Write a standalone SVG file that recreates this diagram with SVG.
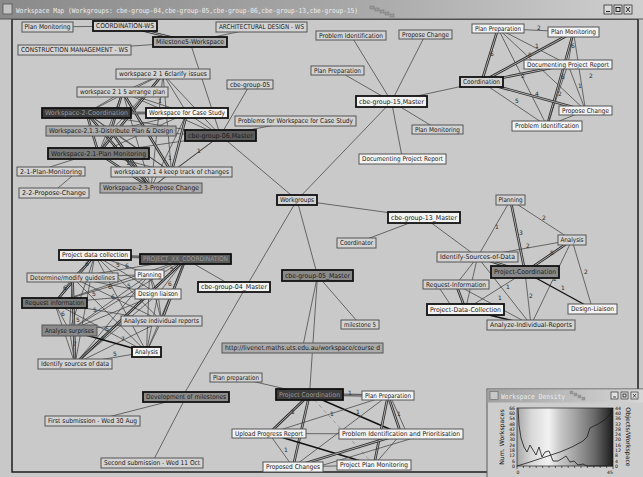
<svg xmlns="http://www.w3.org/2000/svg" width="643" height="477" viewBox="0 0 643 477">
<defs>
<linearGradient id="titleGrad" x1="0" y1="0" x2="1" y2="0">
<stop offset="0" stop-color="#8a8a8a"/><stop offset="0.55" stop-color="#a8a8a8"/><stop offset="1" stop-color="#cfcfcf"/>
</linearGradient>
<linearGradient id="smallTitleGrad" x1="0" y1="0" x2="1" y2="0">
<stop offset="0" stop-color="#a0a0a0"/><stop offset="1" stop-color="#d8d8d8"/>
</linearGradient>
<linearGradient id="plotGrad" x1="0" y1="0" x2="1" y2="0">
<stop offset="0" stop-color="#a8a8a8"/><stop offset="0.15" stop-color="#d8d8d8"/><stop offset="0.33" stop-color="#f2f2f2"/><stop offset="0.45" stop-color="#c8c8c8"/><stop offset="0.6" stop-color="#a4a4a4"/><stop offset="0.8" stop-color="#6c6c6c"/><stop offset="1" stop-color="#1c1c1c"/>
</linearGradient>
<style>
.e line{stroke:#3a3a3a;stroke-width:0.7;fill:none}
.e line.dk{stroke:#111;stroke-width:1.4}
.e line.dbl{stroke:#2c2c2c;stroke-width:2.6}
.e line.dbi{stroke:#bdbdbd;stroke-width:0.9}
.e line.bar{stroke:#6a6a6a;stroke-width:3}
.e line.lt{stroke:#777;stroke-width:0.6;stroke-dasharray:4 3}
.elab text{font-family:"DejaVu Sans",sans-serif;font-size:6px;fill:#2a2a2a;text-anchor:middle}
.node rect{stroke:#555;stroke-width:1}
.node rect.b{stroke:#111;stroke-width:1.8}
.node text{font-family:"DejaVu Sans",sans-serif;font-size:6.6px;fill:#1a1a1a;text-anchor:middle}
.node text.lt{fill:#9a9a9a}
.fn{fill:#d3d3d3}
.fw{fill:#f3f3f3}
.fg{fill:#ababab}
.fm{fill:#8a8a8a}
.fx{fill:#7a7a7a}
.fd{fill:#5c5c5c}
.fk{fill:#3c3c3c}
.ttl{font-family:"DejaVu Sans Mono",monospace;font-size:7px;fill:#ececec}
.ax text{font-family:"DejaVu Sans",sans-serif;font-size:4.6px;fill:#111}
.ax line{stroke:#111;stroke-width:0.6}
</style>
</defs>

<!-- desktop and main window -->
<rect x="0" y="0" width="643" height="477" fill="#c8c8c8"/>
<rect x="12" y="19" width="626" height="453" fill="#c9c9c9" stroke="#1e1e1e" stroke-width="1.5"/>
<rect x="0" y="0" width="643" height="19" fill="url(#titleGrad)"/>
<line x1="0" y1="19" x2="643" y2="19" stroke="#555" stroke-width="1"/>
<rect x="3" y="4" width="9" height="10" fill="#c4c4c4" stroke="#555" stroke-width="0.8"/>
<text class="ttl" x="16" y="12.5" textLength="342" lengthAdjust="spacingAndGlyphs">Workspace Map (Workgroups: cbe-group-04,cbe-group-05,cbe-group-06,cbe-group-13,cbe-group-15)</text>
<g fill="#9a9a9a" stroke="#6a6a6a" stroke-width="0.4">
<rect x="370" y="6" width="4" height="3"/><rect x="375" y="8" width="4" height="3"/><rect x="380" y="10" width="4" height="3"/><rect x="385" y="12" width="4" height="3"/><rect x="390" y="14" width="4" height="3"/>
</g>
<g fill="#d8d8d8" stroke="#333" stroke-width="0.8">
<rect x="604" y="5" width="8" height="9"/><rect x="614" y="5" width="8" height="9"/><rect x="624" y="5" width="8" height="9"/>
</g>
<g stroke="#222" stroke-width="1" fill="none">
<line x1="606" y1="11.5" x2="610" y2="11.5"/><rect x="616" y="7.5" width="4" height="4"/><line x1="626" y1="7" x2="630" y2="12"/><line x1="630" y1="7" x2="626" y2="12"/>
</g>

<g id="connectors" class="e">
<!-- cbe-group-06 workgroup -->
<line x1="47.5" y1="27" x2="125" y2="26"/>
<line class="dbl" x1="125" y1="26" x2="190" y2="42"/><line class="dbi" x1="125" y1="26" x2="190" y2="42"/>
<line x1="261.5" y1="27" x2="190" y2="42"/>
<line x1="74.5" y1="50" x2="190" y2="42"/>
<line x1="190" y1="42" x2="220.5" y2="135.5"/>
<line x1="220.5" y1="135.5" x2="250" y2="84.5"/>
<line x1="220.5" y1="135.5" x2="295.5" y2="121"/>
<line x1="220.5" y1="135.5" x2="297" y2="200"/>
<line x1="220.5" y1="135.5" x2="163" y2="74"/>
<line x1="220.5" y1="135.5" x2="122.5" y2="92"/>
<line x1="220.5" y1="135.5" x2="86.5" y2="113"/>
<line x1="220.5" y1="135.5" x2="187" y2="113"/>
<line x1="220.5" y1="135.5" x2="111" y2="131"/>
<line x1="220.5" y1="135.5" x2="98.5" y2="153.5"/>
<line x1="220.5" y1="135.5" x2="171.5" y2="172"/>
<line x1="220.5" y1="135.5" x2="151" y2="188"/>
<line x1="163" y1="74" x2="122.5" y2="92"/>
<line x1="163" y1="74" x2="86.5" y2="113"/>
<line x1="163" y1="74" x2="187" y2="113"/>
<line x1="163" y1="74" x2="111" y2="131"/>
<line class="dbl" x1="163" y1="74" x2="98.5" y2="153.5"/><line class="dbi" x1="163" y1="74" x2="98.5" y2="153.5"/>
<line x1="163" y1="74" x2="171.5" y2="172"/>
<line x1="163" y1="74" x2="151" y2="188"/>
<line x1="122.5" y1="92" x2="86.5" y2="113"/>
<line x1="122.5" y1="92" x2="187" y2="113"/>
<line class="dbl" x1="122.5" y1="92" x2="111" y2="131"/><line class="dbi" x1="122.5" y1="92" x2="111" y2="131"/>
<line x1="122.5" y1="92" x2="98.5" y2="153.5"/>
<line class="dbl" x1="122.5" y1="92" x2="171.5" y2="172"/><line class="dbi" x1="122.5" y1="92" x2="171.5" y2="172"/>
<line x1="122.5" y1="92" x2="151" y2="188"/>
<line class="dbl" x1="86.5" y1="113" x2="187" y2="113"/><line class="dbi" x1="86.5" y1="113" x2="187" y2="113"/>
<line x1="86.5" y1="113" x2="111" y2="131"/>
<line class="dbl" x1="86.5" y1="113" x2="98.5" y2="153.5"/><line class="dbi" x1="86.5" y1="113" x2="98.5" y2="153.5"/>
<line x1="86.5" y1="113" x2="171.5" y2="172"/>
<line class="dbl" x1="86.5" y1="113" x2="151" y2="188"/><line class="dbi" x1="86.5" y1="113" x2="151" y2="188"/>
<line x1="187" y1="113" x2="111" y2="131"/>
<line x1="187" y1="113" x2="98.5" y2="153.5"/>
<line class="dbl" x1="187" y1="113" x2="171.5" y2="172"/><line class="dbi" x1="187" y1="113" x2="171.5" y2="172"/>
<line x1="187" y1="113" x2="151" y2="188"/>
<line x1="111" y1="131" x2="98.5" y2="153.5"/>
<line x1="111" y1="131" x2="171.5" y2="172"/>
<line class="dbl" x1="111" y1="131" x2="151" y2="188"/><line class="dbi" x1="111" y1="131" x2="151" y2="188"/>
<line x1="98.5" y1="153.5" x2="171.5" y2="172"/>
<line class="dbl" x1="98.5" y1="153.5" x2="151" y2="188"/><line class="dbi" x1="98.5" y1="153.5" x2="151" y2="188"/>
<line x1="171.5" y1="172" x2="151" y2="188"/>
<line x1="75" y1="159" x2="50" y2="167"/>
<line x1="72" y1="176" x2="58" y2="188"/>

<!-- cbe-group-15 workgroup -->
<line x1="391.5" y1="101.5" x2="351" y2="35.5"/>
<line x1="391.5" y1="101.5" x2="425.5" y2="34.5"/>
<line x1="391.5" y1="101.5" x2="337.5" y2="70.5"/>
<line x1="391.5" y1="101.5" x2="481.5" y2="82"/>
<line x1="391.5" y1="101.5" x2="437.5" y2="129.5"/>
<line x1="391.5" y1="101.5" x2="402.5" y2="159"/>
<line x1="391.5" y1="101.5" x2="297" y2="200"/>
<line x1="498" y1="28.5" x2="573.5" y2="32"/>
<line class="dbl" x1="498" y1="28.5" x2="481.5" y2="82"/><line class="dbi" x1="498" y1="28.5" x2="481.5" y2="82"/>
<line x1="498" y1="28.5" x2="568" y2="64.5"/>
<line x1="498" y1="28.5" x2="585.5" y2="110.5"/>
<line x1="498" y1="28.5" x2="547" y2="126"/>
<line class="dbl" x1="573.5" y1="32" x2="481.5" y2="82"/><line class="dbi" x1="573.5" y1="32" x2="481.5" y2="82"/>
<line x1="573.5" y1="32" x2="568" y2="64.5"/>
<line x1="573.5" y1="32" x2="585.5" y2="110.5"/>
<line class="dbl" x1="573.5" y1="32" x2="547" y2="126"/><line class="dbi" x1="573.5" y1="32" x2="547" y2="126"/>
<line class="dbl" x1="568" y1="64.5" x2="481.5" y2="82"/><line class="dbi" x1="568" y1="64.5" x2="481.5" y2="82"/>
<line x1="568" y1="64.5" x2="585.5" y2="110.5"/>
<line x1="568" y1="64.5" x2="547" y2="126"/>
<line class="dbl" x1="481.5" y1="82" x2="585.5" y2="110.5"/><line class="dbi" x1="481.5" y1="82" x2="585.5" y2="110.5"/>
<line x1="481.5" y1="82" x2="547" y2="126"/>
<line x1="585.5" y1="110.5" x2="547" y2="126"/>

<!-- workgroups hub -->
<line x1="297" y1="200" x2="424" y2="217.5"/>
<line x1="297" y1="200" x2="317.5" y2="275.5"/>
<line x1="297" y1="200" x2="246" y2="287"/>
<line x1="246" y1="287" x2="184" y2="394"/>
<line x1="424" y1="217.5" x2="356.5" y2="243"/>
<line x1="424" y1="217.5" x2="477.5" y2="257"/>
<line x1="317.5" y1="275.5" x2="360" y2="324.5"/>
<line x1="317.5" y1="275.5" x2="302.5" y2="348"/>
<line x1="317.5" y1="275.5" x2="309.5" y2="394.5"/>
<line x1="185.5" y1="259" x2="234" y2="287"/>
<line x1="236" y1="377.5" x2="309.5" y2="394.5"/>
<line x1="186" y1="397" x2="92.5" y2="421"/>
<line x1="186" y1="397" x2="152" y2="463"/>

<!-- cbe-group-13 workgroup -->
<line x1="510.5" y1="200" x2="477.5" y2="257"/>
<line class="dbl" x1="510.5" y1="200" x2="525" y2="272"/><line class="dbi" x1="510.5" y1="200" x2="525" y2="272"/>
<line x1="510.5" y1="200" x2="572" y2="240"/>
<line x1="572" y1="240" x2="477.5" y2="257"/>
<line class="dbl" x1="572" y1="240" x2="525" y2="272"/><line class="dbi" x1="572" y1="240" x2="525" y2="272"/>
<line x1="572" y1="240" x2="592.5" y2="309"/>
<line x1="572" y1="240" x2="531" y2="325"/>
<line class="dk" x1="525" y1="272" x2="592.5" y2="309"/>
<line x1="525" y1="272" x2="465.5" y2="309.5"/>
<line x1="525" y1="272" x2="531" y2="325"/>
<line class="dbl" x1="525" y1="272" x2="477.5" y2="257"/><line class="dbi" x1="525" y1="272" x2="477.5" y2="257"/>
<line x1="477.5" y1="257" x2="456" y2="284.5"/>
<line x1="477.5" y1="257" x2="531" y2="325"/>
<line x1="477.5" y1="257" x2="465.5" y2="309.5"/>
<line class="dbl" x1="456" y1="284.5" x2="465.5" y2="309.5"/><line class="dbi" x1="456" y1="284.5" x2="465.5" y2="309.5"/>
<line x1="456" y1="284.5" x2="531" y2="325"/>
<line x1="440" y1="289" x2="450" y2="304"/>
<line class="dk" x1="465.5" y1="309.5" x2="531" y2="325"/>

<!-- cbe-group-04 workgroup -->
<line class="bar" x1="95" y1="255" x2="185.5" y2="259"/>
<line x1="95" y1="255" x2="149.5" y2="274.5"/>
<line x1="95" y1="255" x2="72.5" y2="277.5"/>
<line x1="95" y1="255" x2="158" y2="294"/>
<line class="dbl" x1="95" y1="255" x2="54.5" y2="303"/><line class="dbi" x1="95" y1="255" x2="54.5" y2="303"/>
<line x1="95" y1="255" x2="161.5" y2="321"/>
<line x1="95" y1="255" x2="69.5" y2="330.5"/>
<line x1="95" y1="255" x2="146.5" y2="352"/>
<line x1="95" y1="255" x2="75" y2="364"/>
<line x1="185.5" y1="259" x2="149.5" y2="274.5"/>
<line x1="185.5" y1="259" x2="72.5" y2="277.5"/>
<line x1="185.5" y1="259" x2="158" y2="294"/>
<line x1="185.5" y1="259" x2="54.5" y2="303"/>
<line class="dbl" x1="185.5" y1="259" x2="161.5" y2="321"/><line class="dbi" x1="185.5" y1="259" x2="161.5" y2="321"/>
<line x1="185.5" y1="259" x2="69.5" y2="330.5"/>
<line x1="185.5" y1="259" x2="146.5" y2="352"/>
<line class="dbl" x1="185.5" y1="259" x2="75" y2="364"/><line class="dbi" x1="185.5" y1="259" x2="75" y2="364"/>
<line x1="149.5" y1="274.5" x2="72.5" y2="277.5"/>
<line x1="149.5" y1="274.5" x2="158" y2="294"/>
<line x1="149.5" y1="274.5" x2="54.5" y2="303"/>
<line x1="149.5" y1="274.5" x2="161.5" y2="321"/>
<line x1="149.5" y1="274.5" x2="69.5" y2="330.5"/>
<line x1="149.5" y1="274.5" x2="146.5" y2="352"/>
<line x1="149.5" y1="274.5" x2="75" y2="364"/>
<line x1="72.5" y1="277.5" x2="158" y2="294"/>
<line x1="72.5" y1="277.5" x2="54.5" y2="303"/>
<line x1="72.5" y1="277.5" x2="161.5" y2="321"/>
<line x1="72.5" y1="277.5" x2="69.5" y2="330.5"/>
<line x1="72.5" y1="277.5" x2="146.5" y2="352"/>
<line class="dbl" x1="72.5" y1="277.5" x2="75" y2="364"/><line class="dbi" x1="72.5" y1="277.5" x2="75" y2="364"/>
<line x1="158" y1="294" x2="54.5" y2="303"/>
<line x1="158" y1="294" x2="161.5" y2="321"/>
<line x1="158" y1="294" x2="69.5" y2="330.5"/>
<line x1="158" y1="294" x2="146.5" y2="352"/>
<line x1="158" y1="294" x2="75" y2="364"/>
<line x1="54.5" y1="303" x2="161.5" y2="321"/>
<line x1="54.5" y1="303" x2="69.5" y2="330.5"/>
<line x1="54.5" y1="303" x2="146.5" y2="352"/>
<line x1="54.5" y1="303" x2="75" y2="364"/>
<line x1="161.5" y1="321" x2="69.5" y2="330.5"/>
<line x1="161.5" y1="321" x2="146.5" y2="352"/>
<line x1="161.5" y1="321" x2="75" y2="364"/>
<line class="dk" x1="69.5" y1="330.5" x2="146.5" y2="352"/>
<line x1="69.5" y1="330.5" x2="75" y2="364"/>
<line x1="146.5" y1="352" x2="75" y2="364"/>

<!-- cbe-group-05 workgroup -->
<line class="dbl" x1="309.5" y1="394.5" x2="388" y2="395.5"/><line class="dbi" x1="309.5" y1="394.5" x2="388" y2="395.5"/>
<line class="dbl" x1="309.5" y1="394.5" x2="269" y2="433.5"/><line class="dbi" x1="309.5" y1="394.5" x2="269" y2="433.5"/>
<line class="dk" x1="309.5" y1="394.5" x2="401" y2="434"/>
<line class="dbl" x1="309.5" y1="394.5" x2="293" y2="467"/><line class="dbi" x1="309.5" y1="394.5" x2="293" y2="467"/>
<line class="lt" x1="309.5" y1="394.5" x2="374" y2="465"/>
<line x1="388" y1="395.5" x2="269" y2="433.5"/>
<line class="dbl" x1="388" y1="395.5" x2="401" y2="434"/><line class="dbi" x1="388" y1="395.5" x2="401" y2="434"/>
<line x1="392" y1="400" x2="405" y2="429"/>
<line x1="388" y1="395.5" x2="293" y2="467"/>
<line class="dbl" x1="388" y1="395.5" x2="374" y2="465"/><line class="dbi" x1="388" y1="395.5" x2="374" y2="465"/>
<line x1="269" y1="433.5" x2="401" y2="434"/>
<line x1="269" y1="433.5" x2="293" y2="467"/>
<line class="dk" x1="269" y1="433.5" x2="374" y2="465"/>
<line class="dbl" x1="401" y1="434" x2="293" y2="467"/><line class="dbi" x1="401" y1="434" x2="293" y2="467"/>
<line x1="401" y1="434" x2="374" y2="465"/>
<line x1="410" y1="439" x2="320" y2="466"/>
<line x1="293" y1="467" x2="374" y2="465"/>
</g>

<g id="edge-labels" class="elab">
<text x="199" y="153">1</text>
<text x="160" y="103">1</text><text x="128" y="165">1</text><text x="170" y="160">1</text>
<text x="539" y="30">2</text><text x="492" y="56">6</text><text x="537" y="48">1</text><text x="530" y="57">5</text><text x="573" y="48">6</text><text x="523" y="78">2</text><text x="563" y="79">6</text><text x="537" y="96">4</text><text x="517" y="103">5</text><text x="560" y="96">2</text><text x="580" y="88">1</text><text x="591" y="78">2</text>
<text x="497" y="229">1</text><text x="521" y="235">3</text><text x="544" y="220">2</text><text x="528" y="248">2</text><text x="552" y="255">5</text><text x="586" y="274">2</text><text x="555" y="281">2</text><text x="563" y="290">1</text><text x="531" y="298">2</text><text x="508" y="289">1</text><text x="500" y="300">1</text>
<text x="87" y="266">6</text><text x="118" y="267">5</text><text x="127" y="268">6</text><text x="129" y="288">5</text><text x="65" y="290">6</text><text x="94" y="296">5</text><text x="63" y="316">6</text><text x="95" y="312">5</text><text x="107" y="331">6</text><text x="78" y="322">5</text><text x="75" y="346">7</text><text x="103" y="341">5</text><text x="123" y="341">7</text><text x="115" y="356">5</text><text x="172" y="271">5</text><text x="113" y="299">6</text><text x="110" y="289">6</text><text x="170" y="286">6</text>
<text x="350" y="395">1</text><text x="358" y="414">1</text><text x="332" y="416">1</text><text x="399" y="416">1</text><text x="286" y="452">1</text><text x="293" y="414">1</text>
</g>

<!-- nodes -->
<g id="n-plan-monitoring-ws" class="node"><rect class="fn" x="22" y="22" width="51" height="10"/><text x="47.5" y="29.3" textLength="46" lengthAdjust="spacingAndGlyphs">Plan Monitoring</text></g>
<g id="n-coordination-ws" class="node"><rect class="fn b" x="93" y="21" width="64" height="10"/><text x="125" y="28.3" textLength="58" lengthAdjust="spacingAndGlyphs">COORDINATION-WS</text></g>
<g id="n-architectural-ws" class="node"><rect class="fn" x="216" y="22" width="91" height="10"/><text x="261.5" y="29.3" textLength="85" lengthAdjust="spacingAndGlyphs">ARCHITECTURAL DESIGN - WS</text></g>
<g id="n-milestone5-ws" class="node"><rect class="fg b" x="153" y="37" width="74" height="10"/><text x="190" y="44.3" textLength="68" lengthAdjust="spacingAndGlyphs">Milestone5-Workspace</text></g>
<g id="n-construction-ws" class="node"><rect class="fn" x="18" y="45" width="113" height="10"/><text x="74.5" y="52.3" textLength="107" lengthAdjust="spacingAndGlyphs">CONSTRUCTION MANAGEMENT - WS</text></g>
<g id="n-ws216" class="node"><rect class="fn" x="116" y="69" width="94" height="10"/><text x="163" y="76.3" textLength="88" lengthAdjust="spacingAndGlyphs">workspace 2 1 6clarify issues</text></g>
<g id="n-ws215" class="node"><rect class="fn" x="77" y="87" width="91" height="10"/><text x="122.5" y="94.3" textLength="85" lengthAdjust="spacingAndGlyphs">workspace 2 1 5 arrange plan</text></g>
<g id="n-ws2-coord" class="node"><rect class="fk b" x="42" y="108" width="89" height="10"/><text class="lt" x="86.5" y="115.3" textLength="83" lengthAdjust="spacingAndGlyphs">Workspace-2-Coordination</text></g>
<g id="n-ws-case" class="node"><rect class="fw b" x="146" y="108" width="82" height="10"/><text x="187" y="115.3" textLength="76" lengthAdjust="spacingAndGlyphs">Workspace for Case Study</text></g>
<g id="n-ws213" class="node"><rect class="fg" x="46" y="126" width="130" height="10"/><text x="111" y="133.3" textLength="124" lengthAdjust="spacingAndGlyphs">Workspace-2.1.3-Distribute Plan &amp; Design</text></g>
<g id="n-group06" class="node"><rect class="fd b" x="185" y="130" width="71" height="11"/><text x="220.5" y="137.8" textLength="65" lengthAdjust="spacingAndGlyphs">cbe-group-06,Master</text></g>
<g id="n-problems-case" class="node"><rect class="fn" x="235" y="116" width="121" height="10"/><text x="295.5" y="123.3" textLength="115" lengthAdjust="spacingAndGlyphs">Problems for Workspace for Case Study</text></g>
<g id="n-group05-ws" class="node"><rect class="fn" x="227" y="80" width="46" height="9"/><text x="250" y="86.8" textLength="40" lengthAdjust="spacingAndGlyphs">cbe-group-05</text></g>
<g id="n-ws21" class="node"><rect class="fx b" x="48" y="148" width="101" height="11"/><text x="98.5" y="155.8" textLength="95" lengthAdjust="spacingAndGlyphs">Workspace-2.1-Plan Monitoring</text></g>
<g id="n-21-plan" class="node"><rect class="fn" x="17" y="167" width="68" height="9"/><text x="51" y="173.8" textLength="62" lengthAdjust="spacingAndGlyphs">2-1-Plan-Monitoring</text></g>
<g id="n-ws214" class="node"><rect class="fn" x="111" y="167" width="121" height="10"/><text x="171.5" y="174.3" textLength="115" lengthAdjust="spacingAndGlyphs">workspace 2 1 4 keep track of changes</text></g>
<g id="n-ws23" class="node"><rect class="fg" x="100" y="183" width="102" height="10"/><text x="151" y="190.3" textLength="96" lengthAdjust="spacingAndGlyphs">Workspace-2.3-Propose Change</text></g>
<g id="n-22-propose" class="node"><rect class="fn" x="19" y="188" width="70" height="10"/><text x="54" y="195.3" textLength="64" lengthAdjust="spacingAndGlyphs">2-2-Propose-Change</text></g>

<g id="n-g15-problem" class="node"><rect class="fn" x="316" y="31" width="70" height="9"/><text x="351" y="37.8" textLength="64" lengthAdjust="spacingAndGlyphs">Problem Identification</text></g>
<g id="n-g15-propose" class="node"><rect class="fn" x="399" y="30" width="53" height="9"/><text x="425.5" y="36.8" textLength="47" lengthAdjust="spacingAndGlyphs">Propose Change</text></g>
<g id="n-g15-prep" class="node"><rect class="fn" x="311" y="66" width="53" height="9"/><text x="337.5" y="72.8" textLength="47" lengthAdjust="spacingAndGlyphs">Plan Preparation</text></g>
<g id="n-group15" class="node"><rect class="fw b" x="356" y="96" width="71" height="11"/><text x="391.5" y="103.8" textLength="65" lengthAdjust="spacingAndGlyphs">cbe-group-15,Master</text></g>
<g id="n-g15-monitor" class="node"><rect class="fn" x="412" y="125" width="51" height="9"/><text x="437.5" y="131.8" textLength="45" lengthAdjust="spacingAndGlyphs">Plan Monitoring</text></g>
<g id="n-g15-report" class="node"><rect class="fw" x="359" y="154" width="87" height="10"/><text x="402.5" y="161.3" textLength="81" lengthAdjust="spacingAndGlyphs">Documenting Project Report</text></g>

<g id="n-c-prep" class="node"><rect class="fw" x="472" y="24" width="52" height="9"/><text x="498" y="30.8" textLength="46" lengthAdjust="spacingAndGlyphs">Plan Preparation</text></g>
<g id="n-c-monitor" class="node"><rect class="fw" x="548" y="27" width="51" height="10"/><text x="573.5" y="34.3" textLength="45" lengthAdjust="spacingAndGlyphs">Plan Monitoring</text></g>
<g id="n-c-report" class="node"><rect class="fw" x="524" y="60" width="88" height="9"/><text x="568" y="66.8" textLength="82" lengthAdjust="spacingAndGlyphs">Documenting Project Report</text></g>
<g id="n-c-coordination" class="node"><rect class="fn b" x="460" y="77" width="43" height="10"/><text x="481.5" y="84.3" textLength="37" lengthAdjust="spacingAndGlyphs">Coordination</text></g>
<g id="n-c-propose" class="node"><rect class="fw" x="559" y="106" width="53" height="9"/><text x="585.5" y="112.8" textLength="47" lengthAdjust="spacingAndGlyphs">Propose Change</text></g>
<g id="n-c-problem" class="node"><rect class="fw" x="512" y="121" width="70" height="10"/><text x="547" y="128.3" textLength="64" lengthAdjust="spacingAndGlyphs">Problem Identification</text></g>

<g id="n-workgroups" class="node"><rect class="fn b" x="277" y="195" width="40" height="10"/><text x="297" y="202.3" textLength="34" lengthAdjust="spacingAndGlyphs">Workgroups</text></g>
<g id="n-group13" class="node"><rect class="fw b" x="388" y="212" width="72" height="11"/><text x="424" y="219.8" textLength="66" lengthAdjust="spacingAndGlyphs">cbe-group-13_Master</text></g>
<g id="n-coordinator" class="node"><rect class="fn" x="337" y="238" width="39" height="10"/><text x="356.5" y="245.3" textLength="33" lengthAdjust="spacingAndGlyphs">Coordinator</text></g>
<g id="n-group05" class="node"><rect class="fm b" x="282" y="270" width="71" height="11"/><text x="317.5" y="277.8" textLength="65" lengthAdjust="spacingAndGlyphs">cbe-group-05_Master</text></g>
<g id="n-group04" class="node"><rect class="fw b" x="198" y="282" width="72" height="10"/><text x="234" y="289.3" textLength="66" lengthAdjust="spacingAndGlyphs">cbe-group-04_Master</text></g>
<g id="n-milestone5" class="node"><rect class="fn" x="341" y="320" width="38" height="9"/><text x="360" y="326.8" textLength="32" lengthAdjust="spacingAndGlyphs">milestone 5</text></g>
<g id="n-livenet" class="node"><rect class="fg" x="222" y="343" width="161" height="10"/><text x="302.5" y="350.3" textLength="155" lengthAdjust="spacingAndGlyphs">http://livenet.maths.uts.edu.au/workspace/course d</text></g>

<g id="n-g13-planning" class="node"><rect class="fn" x="496" y="195" width="29" height="10"/><text x="510.5" y="202.3" textLength="24" lengthAdjust="spacingAndGlyphs">Planning</text></g>
<g id="n-g13-analysis" class="node"><rect class="fn" x="558" y="235" width="28" height="10"/><text x="572" y="242.3" textLength="23" lengthAdjust="spacingAndGlyphs">Analysis</text></g>
<g id="n-g13-sources" class="node"><rect class="fn" x="437" y="252" width="81" height="10"/><text x="477.5" y="259.3" textLength="75" lengthAdjust="spacingAndGlyphs">Identify-Sources-of-Data</text></g>
<g id="n-g13-coordination" class="node"><rect class="fm b" x="491" y="266" width="68" height="12"/><text x="525" y="274.3" textLength="62" lengthAdjust="spacingAndGlyphs">Project-Coordination</text></g>
<g id="n-g13-request" class="node"><rect class="fn" x="423" y="280" width="66" height="9"/><text x="456" y="286.8" textLength="60" lengthAdjust="spacingAndGlyphs">Request-Information</text></g>
<g id="n-g13-collection" class="node"><rect class="fw b" x="427" y="304" width="77" height="11"/><text x="465.5" y="311.8" textLength="71" lengthAdjust="spacingAndGlyphs">Project-Data-Collection</text></g>
<g id="n-g13-liaison" class="node"><rect class="fw" x="568" y="304" width="49" height="10"/><text x="592.5" y="311.3" textLength="43" lengthAdjust="spacingAndGlyphs">Design-Liaison</text></g>
<g id="n-g13-reports" class="node"><rect class="fn" x="487" y="320" width="88" height="10"/><text x="531" y="327.3" textLength="82" lengthAdjust="spacingAndGlyphs">Analyze-Individual-Reports</text></g>

<g id="n-g04-collection" class="node"><rect class="fw b" x="59" y="250" width="72" height="10"/><text x="95" y="257.3" textLength="66" lengthAdjust="spacingAndGlyphs">Project data collection</text></g>
<g id="n-g04-coordination" class="node"><rect class="fd b" x="140" y="254" width="91" height="10"/><text class="lt" x="185.5" y="261.3" textLength="85" lengthAdjust="spacingAndGlyphs">PROJECT_XX_COORDINATION</text></g>
<g id="n-g04-planning" class="node"><rect class="fw" x="135" y="270" width="29" height="9"/><text x="149.5" y="276.8" textLength="24" lengthAdjust="spacingAndGlyphs">Planning</text></g>
<g id="n-g04-guidelines" class="node"><rect class="fn" x="27" y="273" width="91" height="9"/><text x="72.5" y="279.8" textLength="85" lengthAdjust="spacingAndGlyphs">Determine/modify guidelines</text></g>
<g id="n-g04-liaison" class="node"><rect class="fw" x="135" y="289" width="46" height="10"/><text x="158" y="296.3" textLength="40" lengthAdjust="spacingAndGlyphs">Design liaison</text></g>
<g id="n-g04-request" class="node"><rect class="fx b" x="22" y="298" width="65" height="10"/><text x="54.5" y="305.3" textLength="59" lengthAdjust="spacingAndGlyphs">Request information</text></g>
<g id="n-g04-reports" class="node"><rect class="fn" x="121" y="316" width="81" height="10"/><text x="161.5" y="323.3" textLength="75" lengthAdjust="spacingAndGlyphs">Analyse individual reports</text></g>
<g id="n-g04-surprises" class="node"><rect class="fm" x="42" y="325" width="55" height="11"/><text x="69.5" y="332.8" textLength="49" lengthAdjust="spacingAndGlyphs">Analyse surprises</text></g>
<g id="n-g04-analysis" class="node"><rect class="fw b" x="132" y="347" width="29" height="10"/><text x="146.5" y="354.3" textLength="23" lengthAdjust="spacingAndGlyphs">Analysis</text></g>
<g id="n-g04-sources" class="node"><rect class="fn" x="38" y="359" width="74" height="10"/><text x="75" y="366.3" textLength="68" lengthAdjust="spacingAndGlyphs">Identify sources of data</text></g>

<g id="n-plan-prep-lower" class="node"><rect class="fn" x="210" y="373" width="52" height="9"/><text x="236" y="379.8" textLength="46" lengthAdjust="spacingAndGlyphs">Plan preparation</text></g>
<g id="n-dev-milestones" class="node"><rect class="fm b" x="143" y="392" width="86" height="10"/><text x="186" y="399.3" textLength="80" lengthAdjust="spacingAndGlyphs">Development of milestones</text></g>
<g id="n-first-sub" class="node"><rect class="fn" x="45" y="416" width="95" height="10"/><text x="92.5" y="423.3" textLength="89" lengthAdjust="spacingAndGlyphs">First submission - Wed 30 Aug</text></g>
<g id="n-second-sub" class="node"><rect class="fn" x="101" y="458" width="102" height="10"/><text x="152" y="465.3" textLength="96" lengthAdjust="spacingAndGlyphs">Second submission - Wed 11 Oct</text></g>
<g id="n-g05-coordination" class="node"><rect class="fk b" x="276" y="389" width="67" height="11"/><text class="lt" x="309.5" y="396.8" textLength="61" lengthAdjust="spacingAndGlyphs">Project Coordination</text></g>
<g id="n-g05-prep" class="node"><rect class="fw" x="362" y="391" width="52" height="9"/><text x="388" y="397.8" textLength="46" lengthAdjust="spacingAndGlyphs">Plan Preparation</text></g>
<g id="n-g05-upload" class="node"><rect class="fw" x="232" y="429" width="74" height="9"/><text x="269" y="435.8" textLength="68" lengthAdjust="spacingAndGlyphs">Upload Progress Report</text></g>
<g id="n-g05-problem" class="node"><rect class="fw" x="339" y="429" width="124" height="10"/><text x="401" y="436.3" textLength="118" lengthAdjust="spacingAndGlyphs">Problem Identification and Prioritisation</text></g>
<g id="n-g05-changes" class="node"><rect class="fw" x="263" y="462" width="60" height="10"/><text x="293" y="469.3" textLength="54" lengthAdjust="spacingAndGlyphs">Proposed Changes</text></g>
<g id="n-g05-monitoring" class="node"><rect class="fw" x="337" y="460" width="74" height="10"/><text x="374" y="467.3" textLength="68" lengthAdjust="spacingAndGlyphs">Project Plan Monitoring</text></g>

<!-- density chart window -->
<g id="density-window">
<rect x="487" y="389" width="160" height="92" fill="#cdcdcd" stroke="#5a5a5a" stroke-width="1"/>
<rect x="487.5" y="389.5" width="160" height="13" fill="url(#smallTitleGrad)"/>
<rect x="490" y="391.5" width="8" height="8" fill="#c8c8c8" stroke="#666" stroke-width="0.6"/>
<text class="ttl" x="501" y="399" textLength="64" lengthAdjust="spacingAndGlyphs">Workspace Density</text>
<g fill="#9a9a9a" stroke="#777" stroke-width="0.3"><rect x="570" y="391" width="3" height="3"/><rect x="574" y="393" width="3" height="3"/><rect x="578" y="395" width="3" height="3"/><rect x="582" y="397" width="3" height="3"/></g>
<g fill="#e0e0e0" stroke="#333" stroke-width="0.7"><rect x="611" y="392" width="7" height="7"/><rect x="621" y="392" width="7" height="7"/><rect x="631" y="392" width="7" height="7"/></g>
<g stroke="#222" stroke-width="0.8" fill="none"><line x1="613" y1="397" x2="616" y2="397"/><rect x="623" y="394" width="3" height="3"/><line x1="633" y1="394" x2="636" y2="397.5"/><line x1="636" y1="394" x2="633" y2="397.5"/></g>
<rect x="517" y="408" width="96" height="58" fill="url(#plotGrad)" stroke="#222" stroke-width="0.7"/>
<polyline fill="none" stroke="#1a1a1a" stroke-width="0.8" points="518,408 519,425 521,438 524,447 527,452 530,445 533,450 536,455 539,447 542,457 545,452 549,451 553,461 558,461 563,458 566,456 570,462 574,461 578,465 583,464 587,466 613,466"/>
<polyline fill="none" stroke="#1a1a1a" stroke-width="0.8" points="517,466 530,462 545,457 560,452 572,447 583,441 587,437 590,428 598,424 606,419 610,414 613,408"/>
<g class="ax">
<line x1="517" y1="466" x2="517" y2="469"/><line x1="523.4" y1="466" x2="523.4" y2="468"/><line x1="529.8" y1="466" x2="529.8" y2="468"/><line x1="536.2" y1="466" x2="536.2" y2="468"/><line x1="542.6" y1="466" x2="542.6" y2="468"/><line x1="549" y1="466" x2="549" y2="468"/><line x1="555.4" y1="466" x2="555.4" y2="468"/><line x1="561.8" y1="466" x2="561.8" y2="468"/><line x1="568.2" y1="466" x2="568.2" y2="468"/><line x1="574.6" y1="466" x2="574.6" y2="468"/><line x1="581" y1="466" x2="581" y2="468"/><line x1="587.4" y1="466" x2="587.4" y2="468"/><line x1="593.8" y1="466" x2="593.8" y2="468"/><line x1="600.2" y1="466" x2="600.2" y2="468"/><line x1="606.6" y1="466" x2="606.6" y2="468"/><line x1="613" y1="466" x2="613" y2="469"/>
<text x="518" y="474" text-anchor="middle">0</text><text x="610" y="474" text-anchor="middle">45</text>
<g text-anchor="end">
<text x="515" y="409.8">66</text><text x="515" y="415.1">60</text><text x="515" y="420.3">54</text><text x="515" y="425.6">48</text><text x="515" y="430.9">42</text><text x="515" y="436.2">36</text><text x="515" y="441.4">30</text><text x="515" y="446.7">24</text><text x="515" y="452">18</text><text x="515" y="457.2">12</text><text x="515" y="462.5">6</text><text x="515" y="467.8">0</text>
</g>
<g text-anchor="start">
<text x="615" y="409.8">44</text><text x="615" y="415.1">40</text><text x="615" y="420.3">36</text><text x="615" y="425.6">32</text><text x="615" y="430.9">28</text><text x="615" y="436.2">24</text><text x="615" y="441.4">20</text><text x="615" y="446.7">16</text><text x="615" y="452">12</text><text x="615" y="457.2">8</text><text x="615" y="462.5">4</text><text x="615" y="467.8">0</text>
</g>
<text x="0" y="0" transform="translate(504,437) rotate(-90)" text-anchor="middle" style="font-size:6.2px">Num. Workspaces</text>
<text x="0" y="0" transform="translate(626,437) rotate(90)" text-anchor="middle" style="font-size:6.2px">Objects/Workspace</text>
</g>
</g>
</svg>
